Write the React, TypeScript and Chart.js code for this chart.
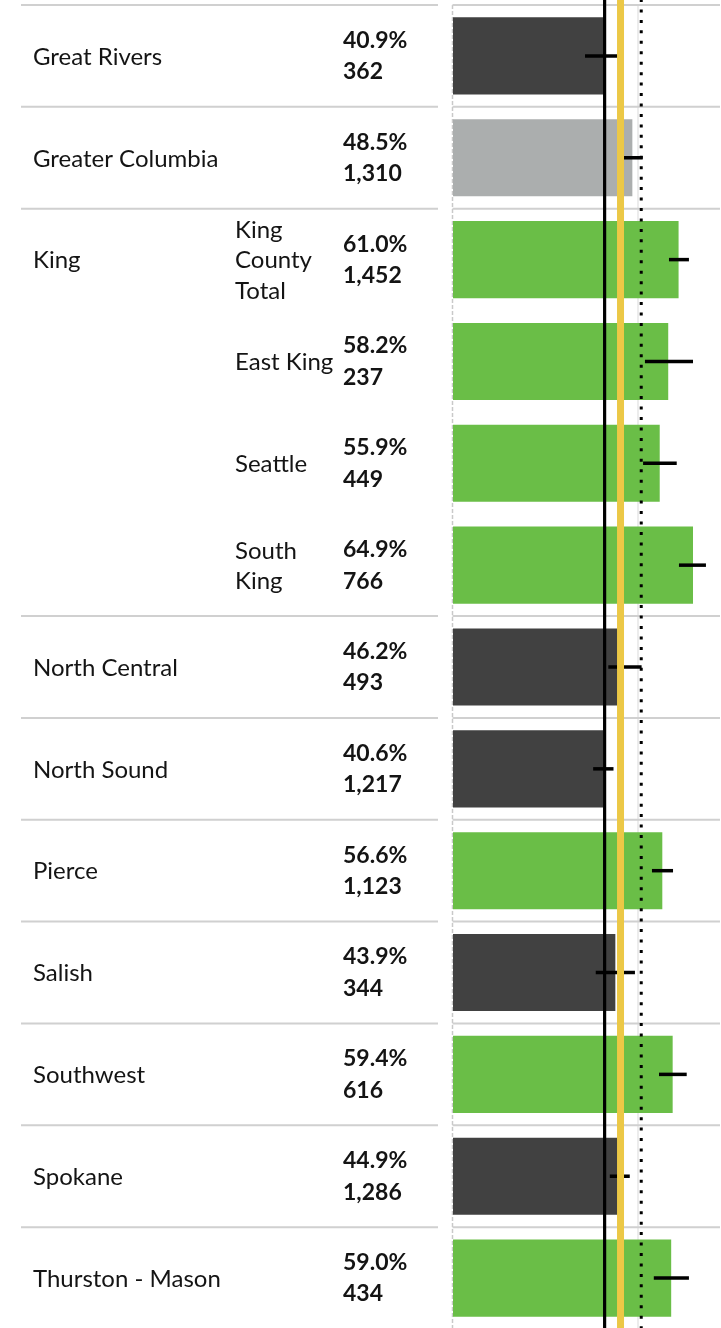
import React, { useEffect, useRef } from "react";
import { Chart, registerables } from "chart.js";

Chart.register(...registerables);

// ---- data ----
const regions = [
  "Great Rivers",
  "Greater Columbia",
  "King",
  "King",
  "King",
  "King",
  "North Central",
  "North Sound",
  "Pierce",
  "Salish",
  "Southwest",
  "Spokane",
  "Thurston - Mason",
];
const subRegions: string[][] = [
  [],
  [],
  ["King", "County", "Total"],
  ["East King"],
  ["Seattle"],
  ["South", "King"],
  [],
  [],
  [],
  [],
  [],
  [],
  [],
];
const percents = [40.9, 48.5, 61.0, 58.2, 55.9, 64.9, 46.2, 40.6, 56.6, 43.9, 59.4, 44.9, 59.0];
const counts = [362, 1310, 1452, 237, 449, 766, 493, 1217, 1123, 344, 616, 1286, 434];
const ciLow = [35.7, 45.7, 58.4, 51.9, 51.4, 61.1, 42.0, 37.9, 53.8, 38.6, 55.7, 42.4, 54.3];
const ciHigh = [46.0, 51.3, 63.8, 64.9, 60.5, 68.4, 51.0, 43.4, 59.5, 49.2, 63.2, 47.8, 63.8];
const status = [
  "below",
  "similar",
  "above",
  "above",
  "above",
  "above",
  "below",
  "below",
  "above",
  "below",
  "above",
  "below",
  "above",
];
const refSolid = 41.0; // black solid line
const refState = 45.3; // yellow line
const refDotted = 50.9; // dotted line
const gridValues = [50];
const axisMin = 0;
const axisMax = 72.2;

const rowKeys = regions.map((r, i) => (subRegions[i].length ? subRegions[i].join(" ") : r));
const statusColors: Record<string, string> = {
  below: "#414141",
  similar: "#abaeae",
  above: "#6abe47",
};

const FONT = "Lato, 'Open Sans', sans-serif";
const TEXT_COLOR = "#141414";

const tablePlugin = {
  id: "tablePlugin",
  beforeDatasetsDraw(chart: any) {
    const { ctx, chartArea, scales } = chart;
    const x = scales.x;
    const y = scales.y;
    const half = (y.getPixelForValue(1) - y.getPixelForValue(0)) / 2;
    ctx.save();
    // gridline(s)
    ctx.strokeStyle = "#ececec";
    ctx.lineWidth = 2;
    gridValues.forEach((v) => {
      const px = Math.round(x.getPixelForValue(v));
      ctx.beginPath();
      ctx.moveTo(px, chartArea.top);
      ctx.lineTo(px, chartArea.bottom);
      ctx.stroke();
    });
    // dashed zero line
    ctx.strokeStyle = "#c9c9c9";
    ctx.lineWidth = 1.5;
    ctx.setLineDash([4, 2]);
    const x0 = x.getPixelForValue(axisMin) - 0.5;
    ctx.beginPath();
    ctx.moveTo(x0, chartArea.top);
    ctx.lineTo(x0, chartArea.bottom);
    ctx.stroke();
    ctx.setLineDash([]);
    // row separators
    ctx.strokeStyle = "#d0d0d0";
    ctx.lineWidth = 2;
    regions.forEach((r, i) => {
      if (i > 0 && regions[i - 1] === r) return;
      const yy = y.getPixelForValue(i) - half;
      ctx.beginPath();
      ctx.moveTo(21, yy);
      ctx.lineTo(438, yy);
      ctx.moveTo(x0, yy);
      ctx.lineTo(chartArea.right, yy);
      ctx.stroke();
    });
    ctx.restore();
  },
  afterDatasetsDraw(chart: any) {
    const { ctx, chartArea, scales } = chart;
    const x = scales.x;
    const y = scales.y;
    ctx.save();
    // error bars
    ctx.strokeStyle = "#000";
    ctx.lineWidth = 3.5;
    percents.forEach((_, i) => {
      const yy = y.getPixelForValue(i);
      ctx.beginPath();
      ctx.moveTo(x.getPixelForValue(ciLow[i]), yy);
      ctx.lineTo(x.getPixelForValue(ciHigh[i]), yy);
      ctx.stroke();
    });
    // reference lines
    const vline = (v: number, color: string, w: number, dash: number[]) => {
      const px = x.getPixelForValue(v);
      ctx.strokeStyle = color;
      ctx.lineWidth = w;
      ctx.setLineDash(dash);
      ctx.beginPath();
      ctx.moveTo(px, chartArea.top - 6);
      ctx.lineTo(px, chartArea.bottom + 6);
      ctx.stroke();
      ctx.setLineDash([]);
    };
    vline(refSolid, "#000000", 3.2, []);
    vline(refState, "#ecc846", 7, []);
    vline(refDotted, "#000000", 3, [3, 7.45]);

    // table text
    ctx.fillStyle = TEXT_COLOR;
    ctx.textBaseline = "middle";
    ctx.textAlign = "left";
    regions.forEach((r, i) => {
      const yy = y.getPixelForValue(i);
      if (i === 0 || regions[i - 1] !== r) {
        ctx.font = `24px ${FONT}`;
        ctx.fillText(r, 33, yy + 1);
      }
      const sub = subRegions[i];
      if (sub.length) {
        ctx.font = `24px ${FONT}`;
        const lh = 30.5;
        sub.forEach((line, k) => {
          ctx.fillText(line, 235, yy + (k - (sub.length - 1) / 2) * lh + 1);
        });
      }
      ctx.font = `bold 23px ${FONT}`;
      ctx.fillText(percents[i].toFixed(1) + "%", 343, yy - 15.5);
      ctx.fillText(counts[i].toLocaleString("en-US"), 343, yy + 16);
    });
    ctx.restore();
  },
};

export default function App() {
  const canvasRef = useRef<HTMLCanvasElement | null>(null);

  useEffect(() => {
    const canvas = canvasRef.current;
    if (!canvas) return;
    const chart = new Chart(canvas, {
      type: "bar",
      data: {
        labels: rowKeys,
        datasets: [
          {
            data: percents,
            backgroundColor: status.map((s) => statusColors[s]),
            borderWidth: 0,
            barPercentage: 0.757,
            categoryPercentage: 1,
          },
        ],
      },
      options: {
        indexAxis: "y",
        animation: false,
        responsive: false,
        devicePixelRatio: 1,
        layout: { padding: { left: 453, right: 1, top: 5, bottom: 1 } },
        plugins: { legend: { display: false }, tooltip: { enabled: false } },
        scales: {
          x: { type: "linear", min: axisMin, max: axisMax, display: false },
          y: { type: "category", display: false, offset: true },
        },
      },
      plugins: [tablePlugin],
    });
    return () => chart.destroy();
  }, []);

  return (
    <div
      style={{
        position: "fixed",
        left: 0,
        top: 0,
        width: 721,
        height: 1328,
        overflow: "hidden",
        background: "#fff",
      }}
    >
      <canvas
        ref={canvasRef}
        width={721}
        height={1330}
        style={{ display: "block", width: 721, height: 1330 }}
      />
    </div>
  );
}
